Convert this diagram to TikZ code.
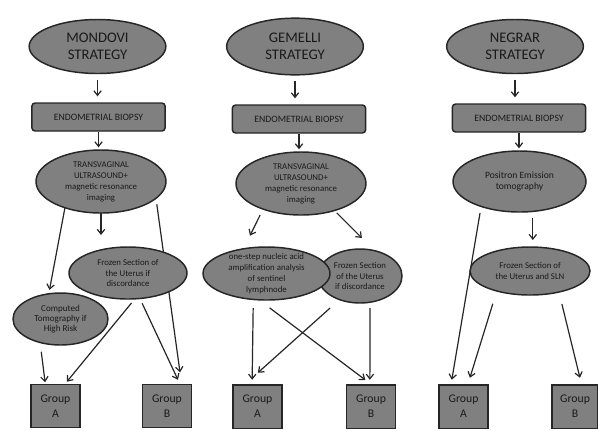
\documentclass[tikz,border=0pt]{standalone}
\usepackage{fontspec}
\setmainfont{Carlito}
\usetikzlibrary{arrows.meta,shapes.geometric,backgrounds}
\definecolor{boxgray}{HTML}{808080}
\definecolor{edgegray}{HTML}{262626}
\definecolor{textgray}{HTML}{1A1A1A}

\begin{document}
\begin{tikzpicture}[
    x=0.75pt,
    y=-0.75pt,
    font=\fontsize{6.6}{8.2}\selectfont,
    bubble/.style={ellipse, draw=edgegray, line width=1.1pt, fill=boxgray, text=textgray, align=center, inner xsep=0pt, inner ysep=-4pt, outer sep=0pt},
    strat/.style={bubble, minimum width=102.5pt, minimum height=40.5pt, font=\fontsize{11}{12.75}\selectfont},
    biopsy/.style={rectangle, rounded corners=2.5pt, draw=edgegray, line width=1.1pt, fill=boxgray, text=textgray, minimum width=100pt, minimum height=21pt, inner sep=0pt, outer sep=0pt, font=\fontsize{7.3}{9}\selectfont},
    grp/.style={rectangle, draw=edgegray, line width=1.1pt, fill=boxgray, text=textgray, align=center, minimum width=36.75pt, minimum height=32.6pt, inner sep=0pt, outer sep=0pt, font=\fontsize{8.8}{11.25}\selectfont},
    arr/.style={-{Straight Barb[length=3.5pt,width=5.5pt]}, line width=0.9pt, draw=edgegray},
    titlearr/.style={arr, shorten <=4.5pt, shorten >=5pt},
    biopsyarr/.style={arr, shorten <=0.75pt, shorten >=2pt}
  ]
  \useasboundingbox (0,0) rectangle (598,430);

  % Mondovi
  \node[strat] (strat1) at (97.5,46.5) {MONDOVI\\STRATEGY};
  \node[biopsy] (bx1) at (98.5,117) {ENDOMETRIAL BIOPSY};
  \node[bubble, minimum width=97.5pt, minimum height=47.25pt] (tv1) at (101,181.5) {TRANSVAGINAL\\ULTRASOUND+\\magnetic resonance\\imaging};
  \node[bubble, minimum width=88.5pt, minimum height=39pt] (fz1) at (128,273) {Frozen Section of\\the Uterus if\\discordance};
  \node[bubble, minimum width=71.25pt, minimum height=39pt, font=\fontsize{6.8}{7.6}\selectfont] (ct1) at (60.5,319) {Computed\\Tomography if\\High Risk};
  \node[grp] (grpA1) at (55.5,406) {Group\\A};
  \node[grp] (grpB1) at (167,406) {Group\\B};

  % Gemelli
  \node[strat, minimum height=42.5pt] (strat2) at (295,46.5) {GEMELLI\\STRATEGY};
  \node[biopsy] (bx2) at (299,119) {ENDOMETRIAL BIOPSY};
  \node[bubble, minimum width=97.5pt, minimum height=47.25pt] (tv2) at (301,183.5) {TRANSVAGINAL\\ULTRASOUND+\\magnetic resonance\\imaging};
  \node[bubble, minimum width=63pt, minimum height=40.5pt] (fz2) at (360,276) {Frozen Section\\of the Uterus\\if discordance};
  \node[bubble, minimum width=95.25pt, minimum height=39.75pt] (osna2) at (266.5,273.5) {one-step nucleic acid\\amplification analysis\\of sentinel\\lymphnode};
  \node[grp] (grpA2) at (257.5,406.5) {Group\\A};
  \node[grp] (grpB2) at (371,406.5) {Group\\B};

  % Negrar
  \node[strat] (strat3) at (515,46.5) {NEGRAR\\STRATEGY};
  \node[biopsy] (bx3) at (519,118) {ENDOMETRIAL BIOPSY};
  \node[bubble, minimum width=99.75pt, minimum height=45.75pt, font=\fontsize{7.2}{8.3}\selectfont] (pet3) at (519.5,181.5) {Positron Emission\\tomography};
  \node[bubble, minimum width=90pt, minimum height=36pt] (fz3) at (530,271) {Frozen Section of\\the Uterus and SLN};
  \node[grp] (grpA3) at (463.5,406.5) {Group\\A};
  \node[grp, minimum width=34.5pt] (grpB3) at (575,406.5) {Group\\B};

  \begin{scope}[on background layer]
    \draw[titlearr] (strat1.south) -- (strat1.south |- bx1.north);
    \draw[biopsyarr] (bx1.south) -- (bx1.south |- tv1.north);
    \draw[arr, shorten >=3pt] (tv1.216) -- (ct1.115);
    \draw[arr, shorten >=9pt] (tv1.south) -- (tv1.south |- fz1.north);
    \draw[arr, shorten <=4.5pt, shorten >=9pt] (tv1.343) -- (grpB1.56);
    \draw[arr, shorten <=7pt, shorten >=1.5pt] (ct1.229) -- (grpA1.115);
    \draw[arr, shorten <=4pt, shorten >=2.5pt] (fz1.285) -- (grpA1.67);
    \draw[arr, shorten <=4pt, shorten >=3.75pt] (fz1.295) -- (grpB1.59);

    \draw[titlearr] (strat2.south) -- (strat2.south |- bx2.north);
    \draw[biopsyarr] (bx2.south) -- (bx2.south |- tv2.north);
    \draw[arr, shorten <=5pt, shorten >=11pt] (tv2.214) -- (osna2.133);
    \draw[arr, shorten <=2.5pt, shorten >=13.5pt] (tv2.321) -- (fz2.60);
    \draw[arr, shorten <=6.5pt, shorten >=3.75pt] (osna2.243) -- (grpA2.104);
    \draw[arr, shorten <=10pt, shorten >=6pt] (osna2.254) -- (grpB2.88);
    \draw[arr, shorten <=9.5pt, shorten >=13.5pt] (fz2.229) -- (grpA2.121);
    \draw[arr, shorten <=4.5pt, shorten >=3.75pt] (fz2.291) -- (grpB2.93);

    \draw[titlearr] (strat3.south) -- (strat3.south |- bx3.north);
    \draw[biopsyarr] (bx3.south) -- (bx3.south |- pet3.north);
    \draw[arr, shorten <=5pt, shorten >=5.25pt] (pet3.294) -- (pet3.294 |- fz3.north);
    \draw[arr, shorten <=5pt, shorten >=3.8pt] (pet3.213) -- (grpA3.120);
    \draw[arr, shorten <=10pt, shorten >=5.5pt] (fz3.211) -- (grpA3.79);
    \draw[arr, shorten <=9.2pt, shorten >=5.4pt] (fz3.324) -- (grpB3.73);
  \end{scope}
\end{tikzpicture}
\end{document}
